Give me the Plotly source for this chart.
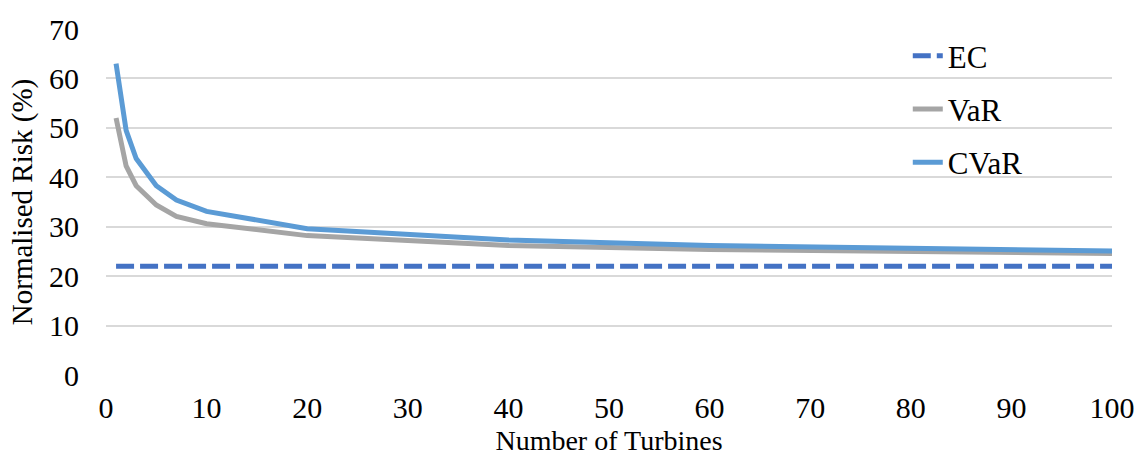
import plotly.graph_objects as go

turbines = [1, 2, 3, 5, 7, 10, 20, 40, 60, 80, 100]
cvar = [63.0, 49.5, 43.8, 38.3, 35.4, 33.1, 29.6, 27.3, 26.2, 25.6, 25.1]
var = [52.0, 42.3, 38.3, 34.4, 32.1, 30.6, 28.2, 26.2, 25.4, 25.0, 24.6]
ec = [22.0] * len(turbines)

y_ticks = [0, 10, 20, 30, 40, 50, 60, 70]
x_ticks = [0, 10, 20, 30, 40, 50, 60, 70, 80, 90, 100]

FONT = "Liberation Serif, Times New Roman, serif"

fig = go.Figure()
fig.add_trace(go.Scatter(x=turbines, y=ec, mode="lines", name="EC", legendgroup="a",
                         line=dict(color="#4472C4", width=5, dash="18px,6px")))
fig.add_trace(go.Scatter(x=turbines, y=var, mode="lines", name="VaR", legendgroup="b",
                         line=dict(color="#A5A5A5", width=5)))
fig.add_trace(go.Scatter(x=turbines, y=cvar, mode="lines", name="CVaR", legendgroup="c",
                         line=dict(color="#5B9BD5", width=5)))

fig.update_layout(
    width=1147, height=463,
    margin=dict(l=106, r=27, t=27, b=87),
    paper_bgcolor="white", plot_bgcolor="white",
    font=dict(family=FONT, size=30, color="black"),
    showlegend=True,
    legend=dict(x=0.797, y=1.0, xanchor="left", yanchor="top",
                font=dict(size=31), tracegroupgap=10, bgcolor="rgba(0,0,0,0)"),
    xaxis=dict(range=[0, 100], tickvals=x_ticks, showgrid=False, zeroline=False,
               showline=False, ticks="", ticklabelstandoff=12,
               title=dict(text="Number of Turbines", standoff=7, font=dict(size=28))),
    yaxis=dict(range=[0, 70], tickvals=y_ticks, showgrid=True, gridcolor="#D9D9D9",
               gridwidth=1.5, zeroline=False, showline=False, ticks="",
               ticklabelstandoff=26,
               title=dict(text="Normalised Risk (%)", standoff=7, font=dict(size=29))),
)

fig.write_html("out.html")
